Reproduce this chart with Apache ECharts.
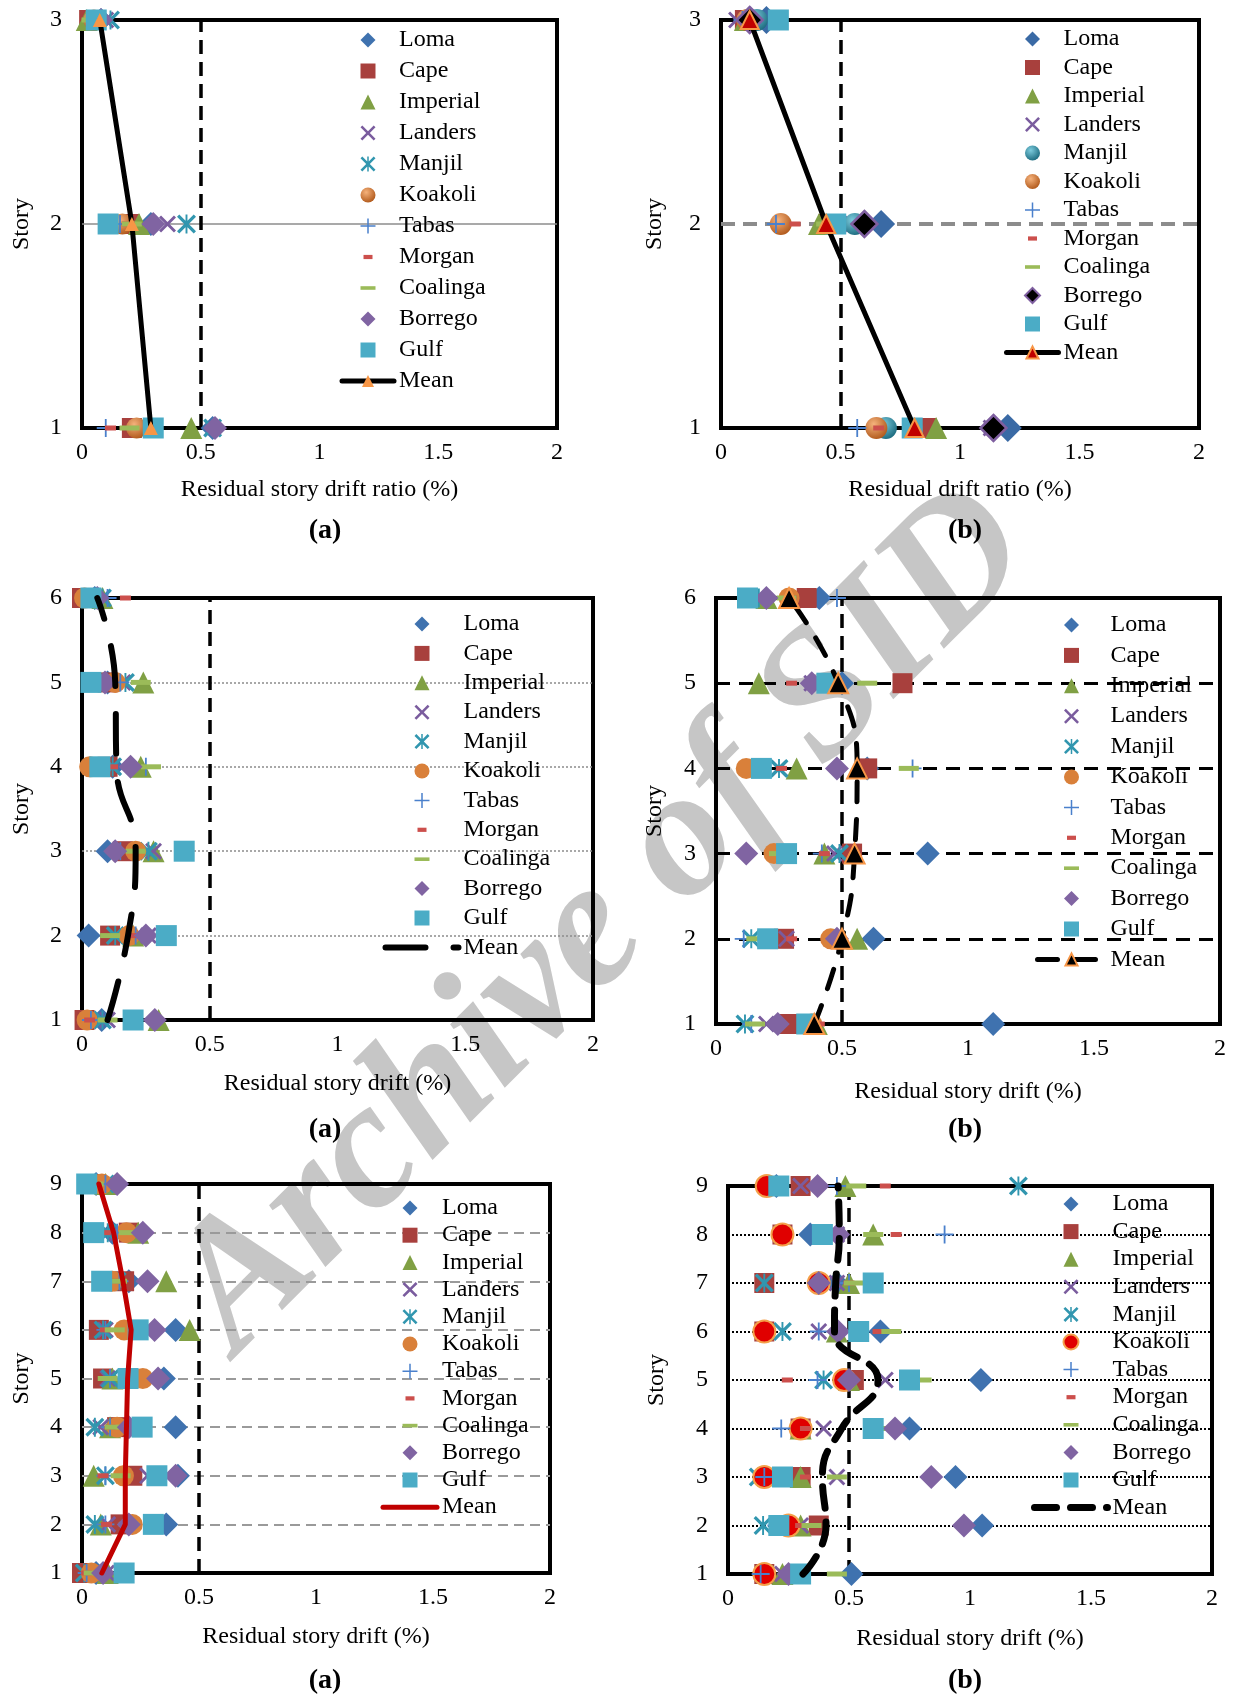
<!DOCTYPE html>
<html>
<head>
<meta charset="utf-8">
<script src="https://cdn.jsdelivr.net/npm/echarts@6/dist/echarts.min.js"></script>
<style>
html,body{margin:0;padding:0;background:#fff;}
#chart{width:1234px;height:1696px;}
</style>
</head>
<body>
<div id="chart"></div>
<script>
// ---------------- DATA ----------------
const seriesNames = ['Loma','Cape','Imperial','Landers','Manjil','Koakoli','Tabas','Morgan','Coalinga','Borrego','Gulf'];
const meanName = 'Mean';
const xTickValues = [0, 0.5, 1, 1.5, 2];
const driftLimit = 0.5;
const xTitles = ['Residual story drift ratio (%)', 'Residual drift ratio (%)', 'Residual story drift (%)', 'Residual story drift (%)', 'Residual story drift (%)', 'Residual story drift (%)'];
const yTitle = 'Story';
const captions = ['(a)', '(b)', '(a)', '(b)', '(a)', '(b)'];
const watermarkText = 'Archive of SID';

// Panel 1 (3 stories, left) : values listed from story 1 upward
const p1Stories  = [1, 2, 3];
const p1Loma     = [0.55, 0.29, 0.08];
const p1Cape     = [0.21, 0.20, 0.03];
const p1Imperial = [0.46, 0.24, 0.02];
const p1Landers  = [0.55, 0.36, 0.10];
const p1Manjil   = [0.55, 0.44, 0.12];
const p1Koakoli  = [0.23, 0.17, 0.05];
const p1Tabas    = [0.10, 0.16, 0.05];
const p1Morgan   = [0.12, 0.19, 0.04];
const p1Coalinga = [0.20, 0.21, 0.04];
const p1Borrego  = [0.56, 0.30, 0.08];
const p1Gulf     = [0.30, 0.11, 0.06];
const p1Mean     = [0.29, 0.21, 0.075];
const p1RefStories = [2];

// Panel 2 (3 stories, right)
const p2Stories  = [1, 2, 3];
const p2Loma     = [1.20, 0.67, 0.19];
const p2Cape     = [0.86, 0.45, 0.10];
const p2Imperial = [0.90, 0.41, 0.10];
const p2Landers  = [1.13, 0.55, 0.065];
const p2Manjil   = [0.69, 0.56, 0.15];
const p2Koakoli  = [0.65, 0.25, 0.11];
const p2Tabas    = [0.57, 0.23, 0.09];
const p2Morgan   = [0.66, 0.31, 0.10];
const p2Coalinga = [0.80, 0.44, 0.11];
const p2Borrego  = [1.14, 0.60, 0.12];
const p2Gulf     = [0.80, 0.48, 0.24];
const p2Mean     = [0.81, 0.44, 0.12];
const p2RefStories = [2];

// Panel 3 (6 stories, left)
const p3Stories  = [1, 2, 3, 4, 5, 6];
const p3Loma     = [0.077, 0.026, 0.10, 0.12, 0.10, 0.05];
const p3Cape     = [0.01, 0.11, 0.16, 0.10, 0.10, 0.00];
const p3Imperial = [0.30, 0.20, 0.28, 0.23, 0.24, 0.08];
const p3Landers  = [0.10, 0.26, 0.28, 0.12, 0.16, 0.08];
const p3Manjil   = [0.08, 0.13, 0.26, 0.12, 0.17, 0.08];
const p3Koakoli  = [0.02, 0.185, 0.21, 0.03, 0.13, 0.01];
const p3Tabas    = [0.035, 0.21, 0.15, 0.25, 0.15, 0.10];
const p3Morgan   = [0.03, 0.20, 0.115, 0.12, 0.12, 0.17];
const p3Coalinga = [0.10, 0.11, 0.21, 0.27, 0.23, 0.05];
const p3Borrego  = [0.285, 0.25, 0.13, 0.19, 0.09, 0.06];
const p3Gulf     = [0.20, 0.33, 0.40, 0.07, 0.035, 0.035];
const p3Mean     = [0.10, 0.18, 0.21, 0.135, 0.13, 0.06];
const p3RefStories = [2, 3, 4, 5];

// Panel 4 (6 stories, right)
const p4Stories  = [1, 2, 3, 4, 5, 6];
const p4Loma     = [1.10, 0.625, 0.84, 0.60, 0.50, 0.41];
const p4Cape     = [0.285, 0.27, 0.54, 0.60, 0.74, 0.36];
const p4Imperial = [0.40, 0.56, 0.43, 0.32, 0.17, 0.20];
const p4Landers  = [0.20, 0.28, 0.47, 0.25, 0.38, 0.17];
const p4Manjil   = [0.115, 0.14, 0.49, 0.25, 0.45, 0.17];
const p4Koakoli  = [0.38, 0.455, 0.23, 0.12, 0.46, 0.29];
const p4Tabas    = [0.14, 0.11, 0.42, 0.78, 0.375, 0.48];
const p4Morgan   = [0.41, 0.30, 0.43, 0.26, 0.30, 0.30];
const p4Coalinga = [0.155, 0.16, 0.25, 0.765, 0.60, 0.28];
const p4Borrego  = [0.245, 0.48, 0.12, 0.48, 0.38, 0.20];
const p4Gulf     = [0.36, 0.205, 0.28, 0.18, 0.44, 0.125];
const p4Mean     = [0.39, 0.50, 0.55, 0.56, 0.485, 0.29];
const p4RefStories = [2, 3, 4, 5];

// Panel 5 (9 stories, left)
const p5Stories  = [1, 2, 3, 4, 5, 6, 7, 8, 9];
const p5Loma     = [0.06, 0.36, 0.41, 0.40, 0.35, 0.40, 0.20, 0.13, 0.06];
const p5Cape     = [0.00, 0.165, 0.215, 0.15, 0.09, 0.072, 0.18, 0.20, 0.03];
const p5Imperial = [0.11, 0.08, 0.05, 0.12, 0.13, 0.46, 0.36, 0.24, 0.10];
const p5Landers  = [0.105, 0.11, 0.28, 0.08, 0.11, 0.10, 0.15, 0.15, 0.12];
const p5Manjil   = [0.01, 0.055, 0.10, 0.055, 0.12, 0.09, 0.15, 0.11, 0.10];
const p5Koakoli  = [0.04, 0.215, 0.177, 0.15, 0.26, 0.18, 0.13, 0.19, 0.085];
const p5Tabas    = [0.02, 0.10, 0.10, 0.12, 0.12, 0.10, 0.16, 0.15, 0.10];
const p5Morgan   = [0.02, 0.105, 0.09, 0.12, 0.12, 0.10, 0.15, 0.10, 0.05];
const p5Coalinga = [0.05, 0.20, 0.165, 0.14, 0.11, 0.14, 0.15, 0.20, 0.05];
const p5Borrego  = [0.09, 0.20, 0.40, 0.20, 0.325, 0.31, 0.28, 0.26, 0.15];
const p5Gulf     = [0.18, 0.305, 0.32, 0.257, 0.197, 0.24, 0.084, 0.05, 0.02];
const p5Mean     = [0.085, 0.185, 0.185, 0.19, 0.195, 0.21, 0.175, 0.135, 0.072];
const p5RefStories = [2, 3, 4, 5, 6, 7, 8];

// Panel 6 (9 stories, right)
const p6Stories  = [1, 2, 3, 4, 5, 6, 7, 8, 9];
const p6Loma     = [0.51, 1.05, 0.94, 0.75, 1.045, 0.63, 0.45, 0.34, 0.20];
const p6Cape     = [0.15, 0.375, 0.30, 0.30, 0.52, 0.15, 0.15, 0.225, 0.30];
const p6Imperial = [0.225, 0.30, 0.30, 0.30, 0.50, 0.45, 0.50, 0.60, 0.485];
const p6Landers  = [0.225, 0.30, 0.45, 0.395, 0.65, 0.375, 0.45, 0.45, 0.30];
const p6Manjil   = [0.15, 0.145, 0.125, 0.30, 0.395, 0.225, 0.15, 0.225, 1.20];
const p6Koakoli  = [0.15, 0.25, 0.15, 0.30, 0.48, 0.15, 0.375, 0.225, 0.16];
const p6Tabas    = [0.135, 0.20, 0.15, 0.22, 0.37, 0.375, 0.50, 0.895, 0.45];
const p6Morgan   = [0.30, 0.30, 0.32, 0.32, 0.245, 0.62, 0.50, 0.695, 0.65];
const p6Coalinga = [0.45, 0.345, 0.45, 0.65, 0.80, 0.675, 0.52, 0.60, 0.53];
const p6Borrego  = [0.25, 0.975, 0.84, 0.69, 0.50, 0.455, 0.375, 0.455, 0.37];
const p6Gulf     = [0.30, 0.21, 0.225, 0.60, 0.75, 0.54, 0.60, 0.39, 0.21];
const p6Mean     = [0.31, 0.405, 0.39, 0.47, 0.62, 0.44, 0.445, 0.46, 0.455];
const p6RefStories = [2, 3, 4, 5, 6, 7, 8];

// table built from the arrays above
const panelData = [
  {stories:p1Stories, mean:p1Mean, ref:p1RefStories, values:{Loma:p1Loma,Cape:p1Cape,Imperial:p1Imperial,Landers:p1Landers,Manjil:p1Manjil,Koakoli:p1Koakoli,Tabas:p1Tabas,Morgan:p1Morgan,Coalinga:p1Coalinga,Borrego:p1Borrego,Gulf:p1Gulf}},
  {stories:p2Stories, mean:p2Mean, ref:p2RefStories, values:{Loma:p2Loma,Cape:p2Cape,Imperial:p2Imperial,Landers:p2Landers,Manjil:p2Manjil,Koakoli:p2Koakoli,Tabas:p2Tabas,Morgan:p2Morgan,Coalinga:p2Coalinga,Borrego:p2Borrego,Gulf:p2Gulf}},
  {stories:p3Stories, mean:p3Mean, ref:p3RefStories, values:{Loma:p3Loma,Cape:p3Cape,Imperial:p3Imperial,Landers:p3Landers,Manjil:p3Manjil,Koakoli:p3Koakoli,Tabas:p3Tabas,Morgan:p3Morgan,Coalinga:p3Coalinga,Borrego:p3Borrego,Gulf:p3Gulf}},
  {stories:p4Stories, mean:p4Mean, ref:p4RefStories, values:{Loma:p4Loma,Cape:p4Cape,Imperial:p4Imperial,Landers:p4Landers,Manjil:p4Manjil,Koakoli:p4Koakoli,Tabas:p4Tabas,Morgan:p4Morgan,Coalinga:p4Coalinga,Borrego:p4Borrego,Gulf:p4Gulf}},
  {stories:p5Stories, mean:p5Mean, ref:p5RefStories, values:{Loma:p5Loma,Cape:p5Cape,Imperial:p5Imperial,Landers:p5Landers,Manjil:p5Manjil,Koakoli:p5Koakoli,Tabas:p5Tabas,Morgan:p5Morgan,Coalinga:p5Coalinga,Borrego:p5Borrego,Gulf:p5Gulf}},
  {stories:p6Stories, mean:p6Mean, ref:p6RefStories, values:{Loma:p6Loma,Cape:p6Cape,Imperial:p6Imperial,Landers:p6Landers,Manjil:p6Manjil,Koakoli:p6Koakoli,Tabas:p6Tabas,Morgan:p6Morgan,Coalinga:p6Coalinga,Borrego:p6Borrego,Gulf:p6Gulf}}
];

// ---------------- STYLE ----------------
const FONT = 'Liberation Serif';
const X_PATH = 'path://M12,0 L50,38 L88,0 L100,12 L62,50 L100,88 L88,100 L50,62 L12,100 L0,88 L38,50 L0,12 Z';
const STAR_PATH = X_PATH + ' M45,0 L55,0 L55,100 L45,100 Z';
const PLUS_PATH = 'path://M0,45 L100,45 L100,55 L0,55 Z M45,0 L55,0 L55,100 L45,100 Z';
const DIAMOND_ICON = 'path://M50,0 L100,50 L50,100 L0,50 Z';
const SQUARE_ICON = 'path://M0,0 L100,0 L100,100 L0,100 Z';
const TRIANGLE_ICON = 'path://M50,0 L100,100 L0,100 Z';
const MORGAN_ICON = 'path://M0,0 M100,100 M20,36 L80,36 L80,64 L20,64 Z';
const COAL_ICON = 'path://M0,0 M100,100 M0,38 L100,38 L100,62 L0,62 Z';
function radial(c0, c1) {
  return {type:'radial', x:0.38, y:0.32, r:0.72, colorStops:[{offset:0,color:c0},{offset:1,color:c1}]};
}
const baseMarkers = {
  Loma:     {symbol:'diamond', size:24, color:'#3F72AF', icon:DIAMOND_ICON},
  Cape:     {symbol:'rect', size:20, color:'#A8403D', icon:SQUARE_ICON},
  Imperial: {symbol:'triangle', size:22, color:'#80A044', icon:TRIANGLE_ICON},
  Landers:  {symbol:X_PATH, size:17, color:'#7A5C9E'},
  Manjil:   {symbol:STAR_PATH, size:19, color:'#3196AF'},
  Koakoli:  {symbol:'circle', size:21, color:'#D9803A'},
  Tabas:    {symbol:PLUS_PATH, size:18, color:'#4A80CC'},
  Morgan:   {symbol:'rect', size:[11,5], color:'#CC4F4C', icon:MORGAN_ICON},
  Coalinga: {symbol:'rect', size:[20,5], color:'#9BBB59', icon:COAL_ICON},
  Borrego:  {symbol:'diamond', size:24, color:'#8064A2', icon:DIAMOND_ICON},
  Gulf:     {symbol:'rect', size:21, color:'#4BACC6', icon:SQUARE_ICON}
};

const panels = [
  { grid:{left:82, top:20, width:475, height:408}, legend:{left:339.5, top:28, itemWidth:52, itemGap:7},
    xNameGap:50, yNameGap:48, cap:[325,531],
    ref:{color:'#8C8C8C', width:1.5, type:'solid'},
    mean:{color:'#000', width:5, type:'solid', symbol:'triangle', symbolSize:14, symColor:'#F79646', smooth:false},
    overrides:{Koakoli:{color:radial('#F5B27C','#B0581A')}} },
  { grid:{left:721, top:20, width:478, height:408}, legend:{left:1004, top:27, itemWidth:52, itemGap:4.5},
    xNameGap:50, yNameGap:54, cap:[965,531],
    ref:{color:'#8C8C8C', width:4, type:[14,8]},
    mean:{color:'#000', width:5, type:'solid', symbol:'triangle', symbolSize:18, symColor:'#C00000', symBorder:'#F79646', symBorderWidth:2, smooth:false},
    overrides:{Loma:{size:28, color:'#3A6AA5'}, Borrego:{color:'#000', border:'#7F5FA0', borderWidth:2.5, size:26},
               Manjil:{symbol:'circle', size:22, color:radial('#7CCBDD','#1B6A7E'), icon:null},
               Koakoli:{size:22, color:radial('#F5B27C','#B0581A')}} },
  { grid:{left:82, top:598, width:511, height:422}, legend:{left:382.5, top:612, itemWidth:73, itemGap:5.4},
    xNameGap:52, yNameGap:48, cap:[325,1130],
    ref:{color:'#8C8C8C', width:1.5, type:[2,2]},
    mean:{color:'#000', width:6, type:[40,28], symbol:'none', smooth:true},
    overrides:{} },
  { grid:{left:716, top:598, width:504, height:426}, legend:{left:1035, top:613, itemWidth:68, itemGap:6.4},
    xNameGap:56, yNameGap:49, cap:[965,1130],
    ref:{color:'#000', width:3, type:[14,9]},
    mean:{color:'#000', width:5, type:[20,18], symbol:'triangle', symbolSize:20, symColor:'#000', symBorder:'#F79646', symBorderWidth:2, smooth:true},
    overrides:{} },
  { grid:{left:82, top:1184, width:468, height:389}, legend:{left:380.5, top:1196, itemWidth:54, itemGap:3.2},
    xNameGap:52, yNameGap:48, cap:[325,1681],
    ref:{color:'#9A9A9A', width:2, type:[10,6]},
    mean:{color:'#C00000', width:5, type:'solid', symbol:'none', smooth:false},
    overrides:{} },
  { grid:{left:728, top:1186, width:484, height:388}, legend:{left:1031, top:1192, itemWidth:73, itemGap:3.6},
    xNameGap:53, yNameGap:59, cap:[965,1681],
    ref:{color:'#000', width:2, type:[2,2]},
    mean:{color:'#000', width:7, type:[22,14], symbol:'none', smooth:true},
    overrides:{Koakoli:{color:'#E00000', border:'#F4A04A', borderWidth:2, size:22}} }
];

// ---------------- OPTION ----------------
const textBase = {fontFamily:FONT, fontSize:24, color:'#000'};
const option = {
  backgroundColor:'#ffffff',
  animation:false,
  grid:[], xAxis:[], yAxis:[], legend:[], series:[],
  graphic:[
    {type:'text', z:-10, silent:true, x:604, y:922, rotation:45 * Math.PI / 180,
     style:{text:watermarkText, font:'italic bold 182px "Liberation Serif"', fill:'#C6C6C6', align:'center', verticalAlign:'middle'}}
  ]
};

panels.forEach((p, i) => {
  const d = panelData[i];
  const N = d.stories.length;
  const tag = '\u200b'.repeat(i + 1);
  option.grid.push(Object.assign({show:true, borderColor:'#000', borderWidth:4, backgroundColor:'transparent'}, p.grid));
  option.xAxis.push({
    gridIndex:i, type:'value', min:xTickValues[0], max:xTickValues[xTickValues.length-1],
    interval:xTickValues[1]-xTickValues[0],
    axisLine:{show:false}, axisTick:{show:false}, splitLine:{show:false},
    axisLabel:Object.assign({margin:13}, textBase),
    name:xTitles[i], nameLocation:'middle', nameGap:p.xNameGap, nameTextStyle:textBase
  });
  option.yAxis.push({
    gridIndex:i, type:'value', min:d.stories[0], max:d.stories[N-1], interval:1,
    axisLine:{show:false}, axisTick:{show:false}, splitLine:{show:false},
    axisLabel:Object.assign({margin:20}, textBase),
    name:yTitle, nameLocation:'middle', nameGap:p.yNameGap, nameTextStyle:textBase
  });

  const m = p.mean;
  const markData = d.ref.map(s => ({yAxis:s, lineStyle:{color:p.ref.color, width:p.ref.width, type:p.ref.type}}));
  markData.push({xAxis:driftLimit, lineStyle:{color:'#000', width:3.5, type:[14,8]}});
  option.series.push({
    type:'line', name:meanName + tag, xAxisIndex:i, yAxisIndex:i, clip:false, silent:true,
    data:d.mean.map((v,k) => [v, d.stories[k]]),
    smooth:m.smooth, symbol:m.symbol, symbolSize:m.symbolSize || 0, showSymbol:m.symbol !== 'none',
    lineStyle:{color:m.color, width:m.width, type:m.type, cap:'round'},
    itemStyle:{color:m.symColor || m.color, borderColor:m.symBorder || m.symColor || m.color, borderWidth:m.symBorderWidth || 0},
    markLine:{silent:true, z:1, symbol:['none','none'], label:{show:false}, animation:false, data:markData}
  });

  const legendData = [];
  seriesNames.forEach(nm => {
    const st = Object.assign({}, baseMarkers[nm], p.overrides[nm] || {});
    option.series.push({
      type:'scatter', name:nm + tag, xAxisIndex:i, yAxisIndex:i, clip:false, silent:true,
      data:d.values[nm].map((v,k) => [v, d.stories[k]]),
      symbol:st.symbol, symbolSize:st.size,
      itemStyle:{color:st.color, borderColor:st.border || st.color, borderWidth:st.borderWidth || 0, opacity:1}
    });
    const li = {name:nm + tag};
    if (st.icon) li.icon = st.icon;
    legendData.push(li);
  });
  const meanLegend = {name:meanName + tag, lineStyle:{color:m.color, width:m.width, type:m.type, cap:'round'}};
  if (m.symbol === 'none') meanLegend.itemStyle = {opacity:0};
  legendData.push(meanLegend);

  option.legend.push({
    orient:'vertical', left:p.legend.left, top:p.legend.top, itemWidth:p.legend.itemWidth, itemHeight:15,
    itemGap:p.legend.itemGap, padding:0, selectedMode:false, data:legendData,
    textStyle:textBase, formatter:name => name.replace(/\u200b/g, '')
  });

  option.graphic.push({type:'text', silent:true, x:p.cap[0], y:p.cap[1],
    style:{text:captions[i], font:'bold 28px "Liberation Serif"', fill:'#000', align:'center', verticalAlign:'middle'}});
});

const chart = echarts.init(document.getElementById('chart'), null, {renderer:'canvas'});
chart.setOption(option);
</script>
</body>
</html>
